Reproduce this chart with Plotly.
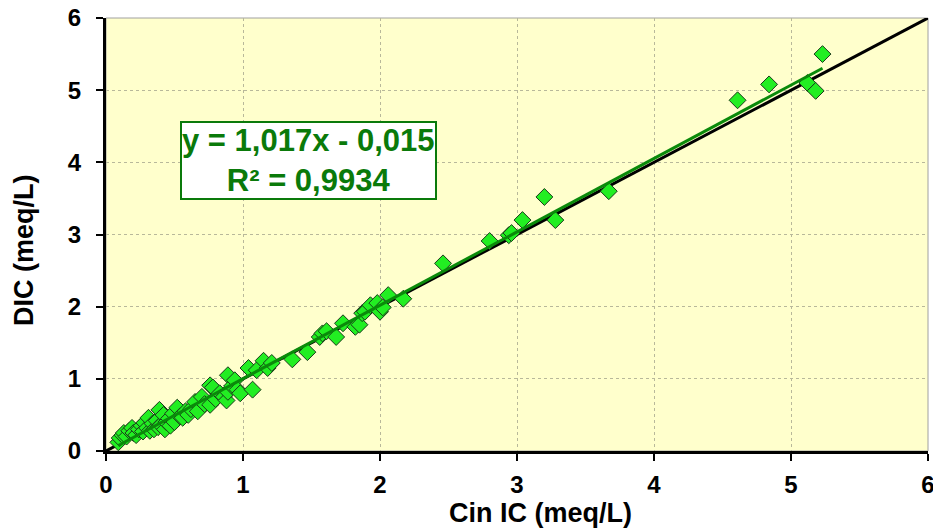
import plotly.graph_objects as go

# Data
cin_ic = [0.09, 0.10, 0.12, 0.13, 0.15, 0.17, 0.19, 0.20, 0.22, 0.24, 0.26, 0.27, 0.28, 0.30,
          0.31, 0.32, 0.34, 0.35, 0.37, 0.38, 0.39, 0.40, 0.42, 0.43, 0.44, 0.46, 0.47, 0.49,
          0.50, 0.52, 0.54, 0.56, 0.58, 0.60, 0.62, 0.65, 0.67, 0.70, 0.72, 0.76, 0.76, 0.78,
          0.80, 0.83, 0.86, 0.88, 0.89, 0.89, 0.92, 0.94, 0.96, 0.98, 1.04, 1.07, 1.10, 1.15,
          1.18, 1.21, 1.36, 1.47, 1.56, 1.58, 1.61, 1.68, 1.73, 1.82, 1.85, 1.87, 1.89, 1.93,
          1.98, 2.00, 2.02, 2.06, 2.17, 2.46, 2.80, 2.94, 2.96, 3.04, 3.20, 3.28, 3.67, 4.61,
          4.84, 5.12, 5.18, 5.23]
dic = [0.12, 0.18, 0.22, 0.25, 0.20, 0.28, 0.32, 0.25, 0.22, 0.30, 0.35, 0.27, 0.39, 0.32,
       0.46, 0.28, 0.38, 0.30, 0.42, 0.33, 0.57, 0.36, 0.50, 0.30, 0.40, 0.45, 0.35, 0.52,
       0.40, 0.60, 0.48, 0.46, 0.55, 0.50, 0.58, 0.68, 0.55, 0.75, 0.65, 0.64, 0.91, 0.88,
       0.72, 0.80, 0.75, 0.70, 0.82, 1.05, 0.90, 0.98, 0.85, 0.80, 1.15, 0.85, 1.12, 1.25,
       1.15, 1.22, 1.27, 1.37, 1.58, 1.63, 1.66, 1.58, 1.77, 1.72, 1.75, 1.91, 1.93, 2.02,
       2.05, 1.93, 1.99, 2.16, 2.11, 2.60, 2.91, 2.99, 3.02, 3.20, 3.52, 3.20, 3.60, 4.86,
       5.08, 5.10, 4.99, 5.50]

slope = 1.017
intercept = -0.015
one_to_one = [0, 6]
tick_vals = [0, 1, 2, 3, 4, 5, 6]
tick_text = ["0", "1", "2", "3", "4", "5", "6"]
x_title = "Cin IC (meq/L)"
y_title = "DIC (meq/L)"
eq_text = "y = 1,017x - 0,015<br>R² = 0,9934"

font_family = "Arial, Liberation Sans, sans-serif"

x_fit = [min(cin_ic), max(cin_ic)]
y_fit = [slope * v + intercept for v in x_fit]

fig = go.Figure()
fig.add_trace(go.Scatter(x=one_to_one, y=one_to_one, mode="lines",
                         line=dict(color="black", width=3), showlegend=False,
                         hoverinfo="skip"))
fig.add_trace(go.Scatter(x=cin_ic, y=dic, mode="markers",
                         marker=dict(symbol="diamond", size=13, color="#22EE22",
                                     line=dict(color="#1a3a1a", width=1)),
                         showlegend=False))
fig.add_trace(go.Scatter(x=x_fit, y=y_fit, mode="lines",
                         line=dict(color="#0a8a0a", width=3), showlegend=False,
                         hoverinfo="skip"))

axis_common = dict(
    range=[0, 6], tickvals=tick_vals, ticktext=tick_text,
    showline=True, linecolor="black", linewidth=3,
    ticks="outside", tickcolor="black", tickwidth=2, ticklen=7,
    showgrid=True, gridcolor="#b8b89a", griddash="dot", gridwidth=1,
    zeroline=False, automargin=False, ticklabeloverflow="allow",
    tickfont=dict(family=font_family, size=24, color="black", weight="bold"),
)

fig.update_layout(
    width=933, height=531,
    margin=dict(l=106, r=5, t=18, b=80),
    paper_bgcolor="white", plot_bgcolor="#FFFFCC",
    xaxis=dict(**axis_common, ticklabelstandoff=3),
    yaxis=dict(**axis_common, ticklabelstandoff=10),
    shapes=[dict(type="rect", xref="paper", yref="paper", x0=0, y0=0, x1=1, y1=1,
                 line=dict(color="#a0a0a0", width=1), layer="below")],
    annotations=[
        dict(x=1.48, y=4.03, xref="x", yref="y",
             text="<b>" + eq_text + "</b>",
             showarrow=False, align="center",
             font=dict(family=font_family, size=31, color="#0a7a0a"),
             bgcolor="white", bordercolor="#0a7a0a", borderwidth=2, borderpad=0),
        dict(x=0.529, y=-0.143, xref="paper", yref="paper",
             xanchor="center", yanchor="middle", showarrow=False,
             text="<b>" + x_title + "</b>",
             font=dict(family=font_family, size=27, color="black")),
        dict(x=-0.0998, y=0.464, xref="paper", yref="paper",
             xanchor="center", yanchor="middle", showarrow=False, textangle=-90,
             text="<b>" + y_title + "</b>",
             font=dict(family=font_family, size=27, color="black")),
    ],
)

fig.write_html("out.html", config={"displayModeBar": False},
               post_script="document.body.style.margin='0';")
